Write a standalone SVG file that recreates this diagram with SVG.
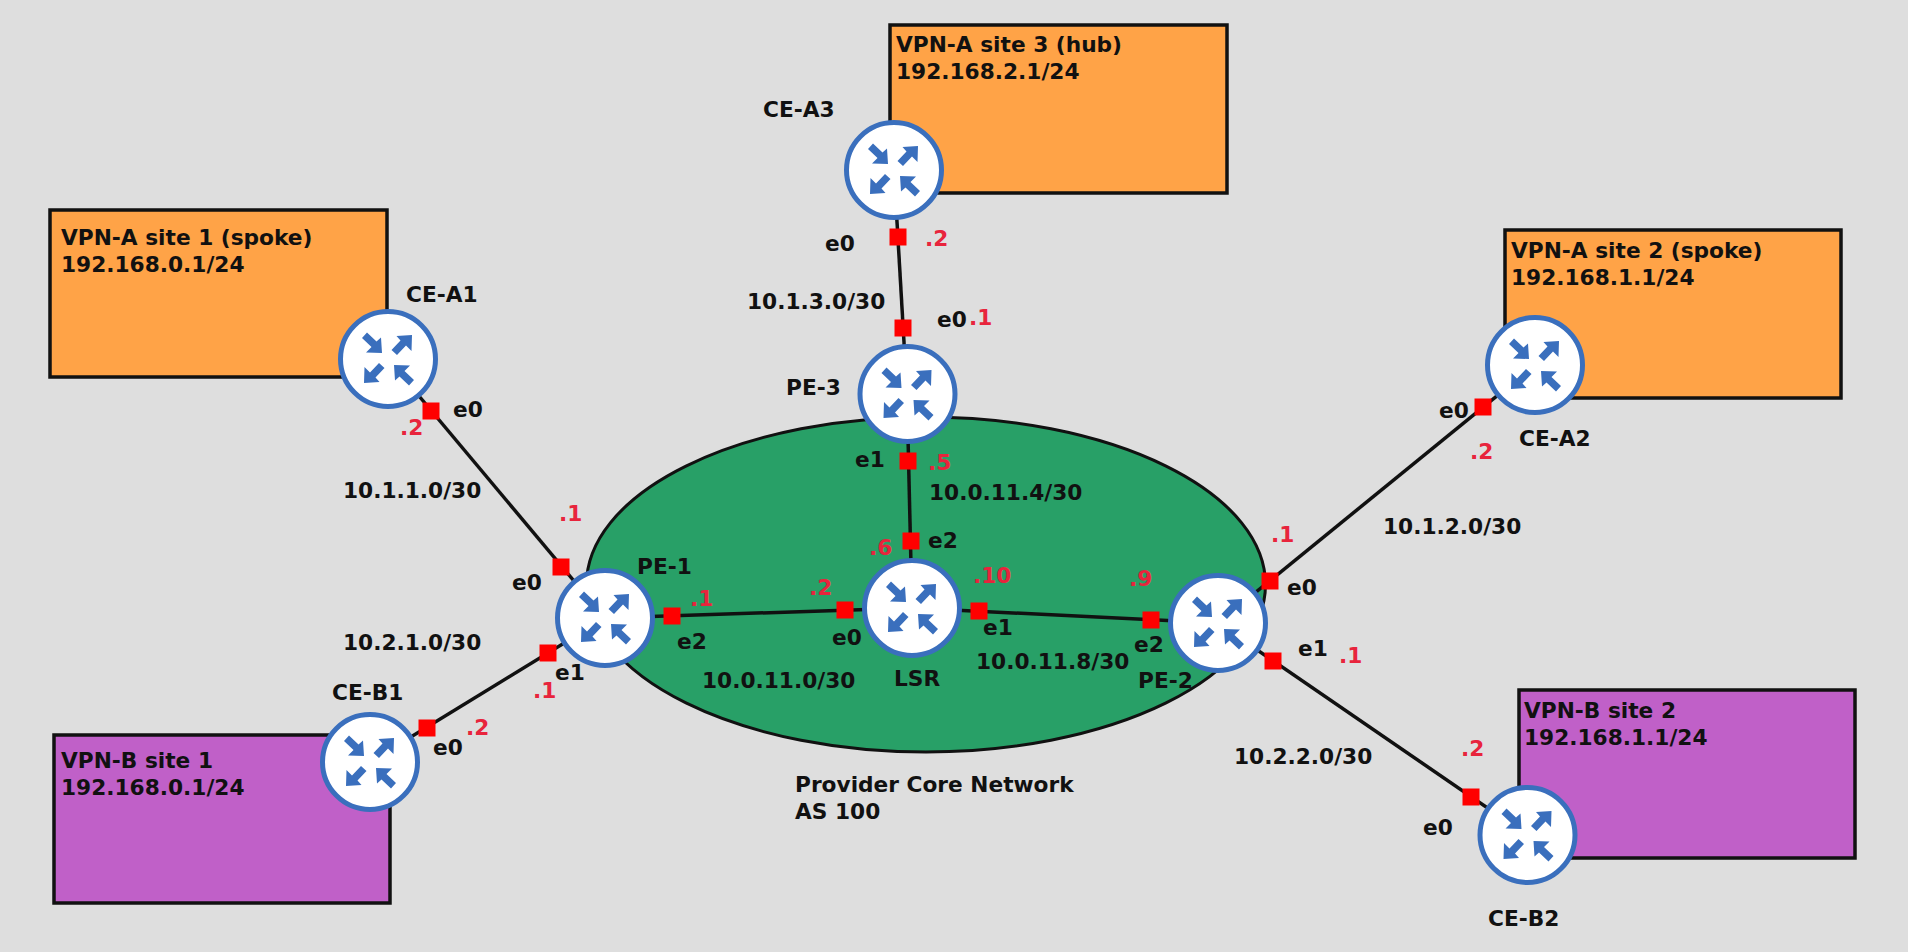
<svg xmlns="http://www.w3.org/2000/svg" width="1908" height="952" viewBox="0 0 1908 952">
<style>
text{font-family:"DejaVu Sans",sans-serif;font-weight:700;font-size:21.7px;fill:#111}
.r{fill:#e8243c}
.site{stroke:#111;stroke-width:3.500}
.a{fill:#ffa347}.b{fill:#c060c8}
.l{stroke:#111;stroke-width:3.500;fill:none}
.p{fill:#ff0000}
</style>
<defs>
<polygon id="arr" points="24,-24 23.500,-8 18,-13.500 9,-4 3.500,-9 12.500,-18.500 8.500,-23"/>
<g id="router">
<circle r="47.500" fill="#fff" stroke="#3a6fbd" stroke-width="5"/>
<g fill="#3a6fbd">
<use href="#arr"/>
<use href="#arr" transform="rotate(180)"/>
<use href="#arr" transform="translate(-30,-30) rotate(90)"/>
<use href="#arr" transform="translate(30,30) rotate(-90)"/>
</g>
</g>
<rect id="port" x="-8.500" y="-8.500" width="17" height="17" class="p"/>
</defs>
<rect width="1908" height="952" fill="#dedede"/>
<g id="core"><ellipse cx="926" cy="584.500" rx="339.500" ry="167.500" fill="#28a067" stroke="#111" stroke-width="3"/></g>
<g id="site-a1"><rect class="site a" x="50" y="210" width="337" height="167"/><text x="61" y="245">VPN-A site 1 (spoke)</text><text x="61" y="272">192.168.0.1/24</text></g>
<g id="site-a3"><rect class="site a" x="890" y="25" width="337" height="168"/><text x="896" y="52">VPN-A site 3 (hub)</text><text x="896" y="79">192.168.2.1/24</text></g>
<g id="site-a2"><rect class="site a" x="1505" y="230" width="336" height="168"/><text x="1511" y="258">VPN-A site 2 (spoke)</text><text x="1511" y="285">192.168.1.1/24</text></g>
<g id="site-b1"><rect class="site b" x="54" y="735" width="336" height="168"/><text x="61" y="768">VPN-B site 1</text><text x="61" y="795">192.168.0.1/24</text></g>
<g id="site-b2"><rect class="site b" x="1519" y="690" width="336" height="168"/><text x="1524" y="718">VPN-B site 2</text><text x="1524" y="745">192.168.1.1/24</text></g>
<g id="connectors">
<line class="l" x1="388" y1="359" x2="605" y2="618"/>
<line class="l" x1="370" y1="762" x2="605" y2="618"/>
<line class="l" x1="605" y1="618" x2="912" y2="608"/>
<line class="l" x1="912" y1="608" x2="1218" y2="623"/>
<line class="l" x1="907" y1="394" x2="912" y2="608"/>
<line class="l" x1="894" y1="170" x2="907" y2="394"/>
<line class="l" x1="1535" y1="365" x2="1218" y2="623"/>
<line class="l" x1="1218" y1="623" x2="1527" y2="835"/>
</g>
<g id="ce-a1"><use href="#router" x="388" y="359"/><text x="406" y="302">CE-A1</text></g>
<g id="ce-a3"><use href="#router" x="894" y="170"/><text x="763" y="117">CE-A3</text></g>
<g id="ce-a2"><use href="#router" x="1535" y="365"/><text x="1519" y="446">CE-A2</text></g>
<g id="ce-b1"><use href="#router" x="370" y="762"/><text x="332" y="700">CE-B1</text></g>
<g id="ce-b2"><use href="#router" x="1527.500" y="835"/><text x="1488" y="926">CE-B2</text></g>
<g id="pe-1"><use href="#router" x="605" y="618"/><text x="637" y="574">PE-1</text></g>
<g id="pe-2"><use href="#router" x="1218" y="623"/><text x="1138" y="688">PE-2</text></g>
<g id="pe-3"><use href="#router" x="907.500" y="394"/><text x="786" y="395">PE-3</text></g>
<g id="lsr"><use href="#router" x="912" y="608"/><text x="894" y="686">LSR</text></g>
<g id="ports">
<use href="#port" x="431" y="411"/><use href="#port" x="561" y="567"/><use href="#port" x="548" y="653"/><use href="#port" x="427" y="728"/>
<use href="#port" x="672" y="616"/><use href="#port" x="845" y="610"/><use href="#port" x="979" y="611"/><use href="#port" x="1151" y="620"/>
<use href="#port" x="908" y="461"/><use href="#port" x="911" y="541"/><use href="#port" x="898" y="237"/><use href="#port" x="903" y="328"/>
<use href="#port" x="1483" y="407"/><use href="#port" x="1270" y="581"/><use href="#port" x="1273" y="661"/><use href="#port" x="1471" y="797"/>
</g>
<g id="labels">
<text x="343" y="498">10.1.1.0/30</text><text x="343" y="650">10.2.1.0/30</text><text x="747" y="309">10.1.3.0/30</text><text x="1383" y="534">10.1.2.0/30</text><text x="1234" y="764">10.2.2.0/30</text>
<text x="702" y="688">10.0.11.0/30</text><text x="976" y="669">10.0.11.8/30</text><text x="929" y="500">10.0.11.4/30</text>
<text x="795" y="792">Provider Core Network</text><text x="795" y="819">AS 100</text>
<text x="453" y="417">e0</text><text x="512" y="590">e0</text><text x="555" y="680">e1</text><text x="433" y="755">e0</text><text x="677" y="649">e2</text><text x="832" y="645">e0</text><text x="983" y="635">e1</text><text x="1134" y="652">e2</text>
<text x="855" y="467">e1</text><text x="928" y="548">e2</text><text x="825" y="251">e0</text><text x="937" y="327">e0</text><text x="1439" y="418">e0</text><text x="1287" y="595">e0</text><text x="1298" y="656">e1</text><text x="1423" y="835">e0</text>
<text class="r" x="400" y="435">.2</text><text class="r" x="559" y="521">.1</text><text class="r" x="533" y="698">.1</text><text class="r" x="466" y="735">.2</text>
<text class="r" x="690" y="606">.1</text><text class="r" x="809" y="595">.2</text><text class="r" x="973" y="583">.10</text><text class="r" x="1129" y="586">.9</text>
<text class="r" x="928" y="470">.5</text><text class="r" x="869" y="555">.6</text><text class="r" x="925" y="246">.2</text><text class="r" x="969" y="325">.1</text>
<text class="r" x="1470" y="459">.2</text><text class="r" x="1271" y="542">.1</text><text class="r" x="1339" y="663">.1</text><text class="r" x="1461" y="756">.2</text>
</g>
</svg>
